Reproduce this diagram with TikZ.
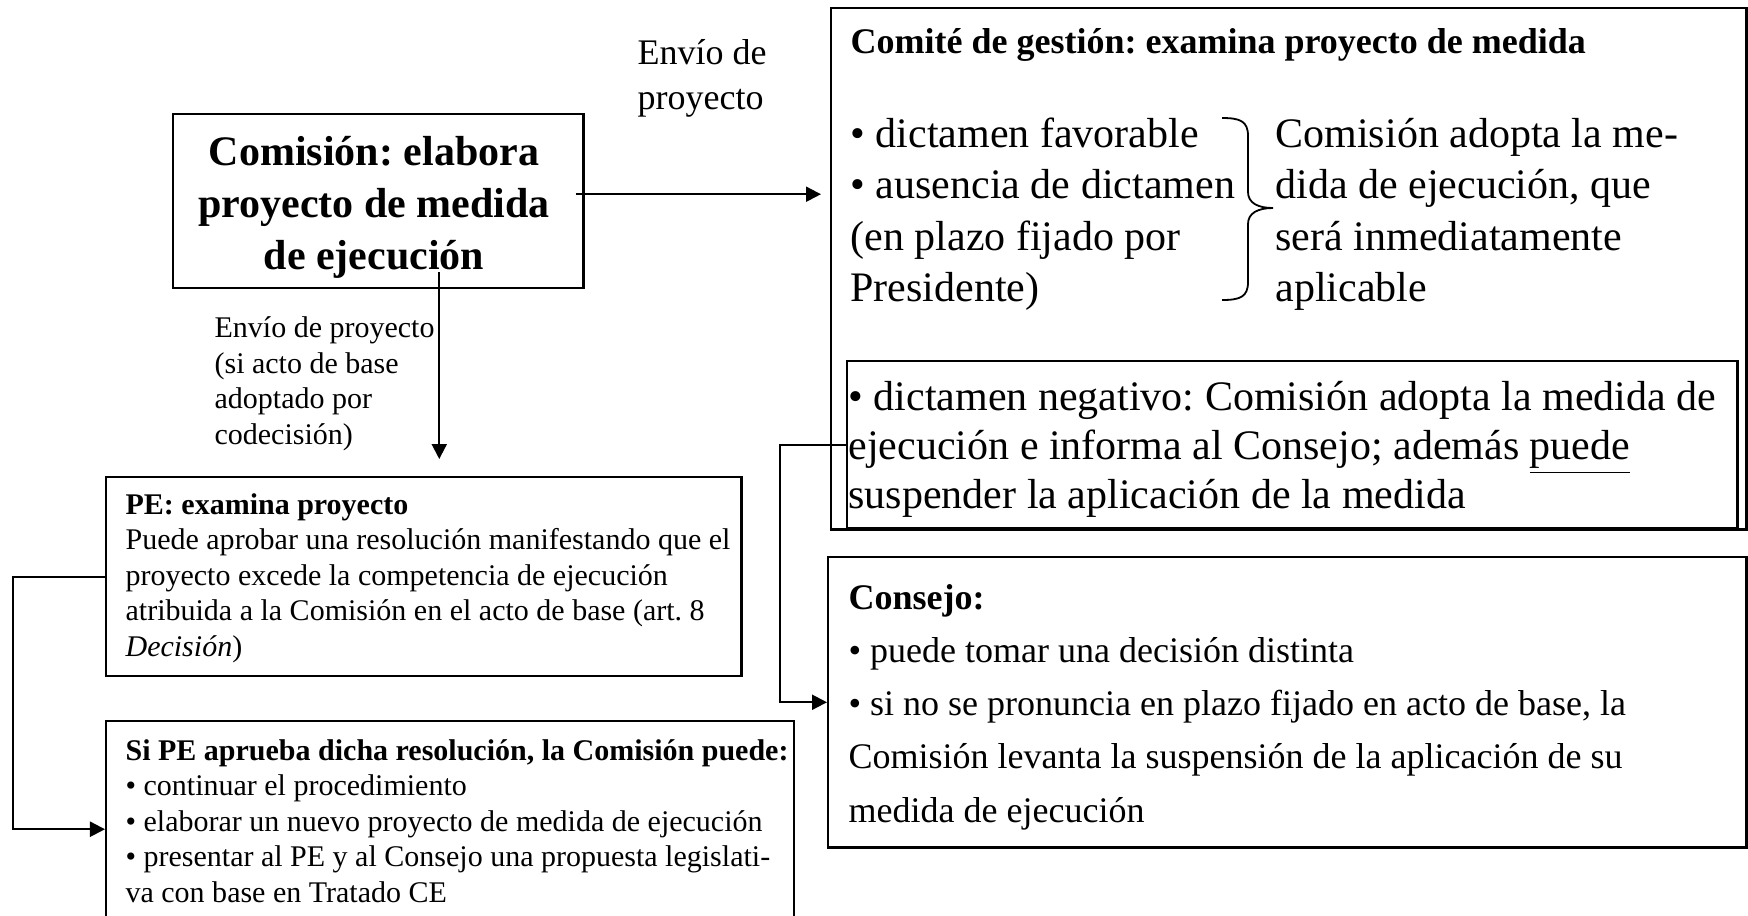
\documentclass[tikz,border=0pt]{standalone}
\usepackage{fontspec}
\setmainfont{Liberation Serif}
\usetikzlibrary{positioning,arrows.meta}
\frenchspacing

\tikzset{
  caja/.style={draw, line width=0.8pt, inner sep=0pt, anchor=north west},
  texto/.style={inner sep=0pt, anchor=base west, align=left},
  flecha/.style={line width=0.7pt, -{Triangle[length=5pt,width=5pt]}},
  catorce/.style={font=\fontsize{14pt}{17pt}\selectfont},
  doce/.style={font=\fontsize{12pt}{17.7pt}\selectfont},
  diez/.style={font=\fontsize{10pt}{11.8pt}\selectfont},
}

\begin{document}
\begin{tikzpicture}[x=0.3333pt,y=-0.3333pt]
\useasboundingbox (0,0) rectangle (1748,915);

% cajas
\node[caja, minimum width=136.7pt, minimum height=58pt] (comision) at (172,113) {};
\node[caja, minimum width=305pt, minimum height=173.7pt] (comite) at (830,7) {};
\node[caja, minimum width=296.7pt, minimum height=55.7pt] (negativo) at (846,360) {};
\node[caja, minimum width=306pt, minimum height=96.7pt] (consejo) at (827,556) {};
\node[caja, minimum width=211.7pt, minimum height=66.3pt] (pe) at (105,476) {};
\node[caja, minimum width=229.3pt, minimum height=72pt] (sipe) at (105,720) {};

% textos (anclados en la linea base de la ultima linea)
\node[texto, font=\fontsize{12pt}{15pt}\selectfont] (envioA) at (637,109) {Envío de\\proyecto};
\node[inner sep=0pt, anchor=base, align=center, font=\fontsize{14pt}{17.3pt}\selectfont\bfseries]
  (comisionT) at (374,269) {Comisión: elabora\\proyecto de medida\\de ejecución};
\node[texto, doce] (comiteT) at (850,53) {\textbf{Comité de gestión: examina proyecto de medida}};
\node[texto, catorce] (favorable) at (850,301) {• dictamen favorable\\• ausencia de dictamen\\(en plazo fijado por\\Presidente)};
\node[texto, catorce] (adopta) at (1275,301) {Comisión adopta la me-\\dida de ejecución, que\\será inmediatamente\\aplicable};
\node[texto, font=\fontsize{14pt}{16.3pt}\selectfont] (negativoT) at (848,508) {• dictamen negativo: Comisión adopta la medida de\\ejecución e informa al Consejo; además \underline{puede}\\suspender la aplicación de la medida};
\node[texto, doce] (consejoT) at (848,822) {\textbf{Consejo:}\\• puede tomar una decisión distinta\\• si no se pronuncia en plazo fijado en acto de base, la\\Comisión levanta la suspensión de la aplicación de su\\medida de ejecución};
\node[texto, diez] (envioB) at (214,444) {Envío de proyecto\\(si acto de base\\adoptado por\\codecisión)};
\node[texto, diez] (peT) at (125,656) {\textbf{PE: examina proyecto}\\Puede aprobar una resolución manifestando que el\\proyecto excede la competencia de ejecución\\atribuida a la Comisión en el acto de base (art. 8\\\textit{Decisión})};
\node[texto, diez] (sipeT) at (125,902) {\textbf{Si PE aprueba dicha resolución, la Comisión puede:}\\• continuar el procedimiento\\• elaborar un nuevo proyecto de medida de ejecución\\• presentar al PE y al Consejo una propuesta legislati-\\va con base en Tratado CE};

% llave
\draw[line width=0.6pt] (1222,118) .. controls (1240,118) and (1248,121) .. (1248,136)
  -- (1248,192) .. controls (1248,203) and (1258,208) .. (1273,208)
  .. controls (1258,208) and (1248,213) .. (1248,224)
  -- (1248,282) .. controls (1248,297) and (1240,300) .. (1222,300);

% flechas
\draw[flecha] ([shift={(-9,-7)}]comision.east) -- ([shift={(-9,-7)}]comision.east -| comite.west);
\draw[flecha] ([shift={(61,-17)}]comision.south) -- ([shift={(61,-17)}]comision.south |- pe.north);
\draw[flecha] (pe.west) -- ++(-92,0) |- (sipe.west);
\draw[flecha] (negativo.west) -- ++(-66,0) |- (consejo.west);
\end{tikzpicture}
\end{document}
